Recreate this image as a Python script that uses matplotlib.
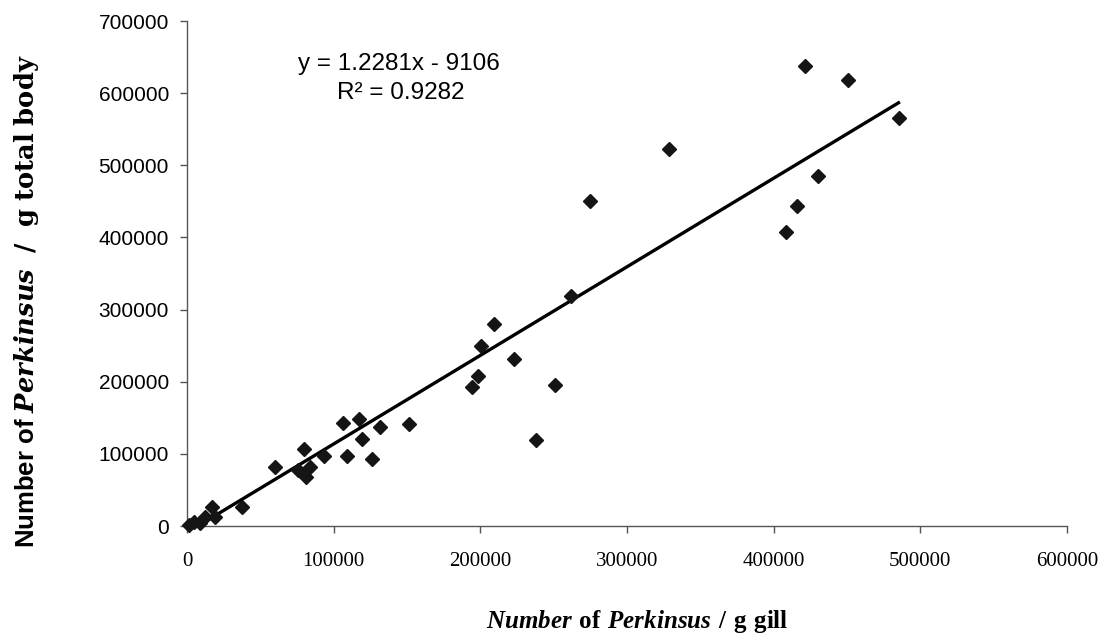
import numpy as np
import matplotlib
matplotlib.use("Agg")
import matplotlib.pyplot as plt

plt.rcParams['mathtext.fontset'] = 'custom'
plt.rcParams['mathtext.rm'] = 'DejaVu Serif'
plt.rcParams['mathtext.bf'] = 'DejaVu Serif:bold'
plt.rcParams['mathtext.it'] = 'DejaVu Serif:italic'
plt.rcParams['mathtext.bfit'] = 'DejaVu Serif:bold:italic'
# narrower serif for the x label
plt.rcParams['mathtext.sf'] = 'Liberation Serif:bold:italic'
plt.rcParams['mathtext.tt'] = 'Liberation Serif:bold'

# Perkinsus counts: gill (x) vs total body (y)
gill = [1100, 5000, 8600, 12500, 17000, 19300, 37500, 60200, 75700, 80000,
        83600, 81300, 93600, 106700, 109100, 117400, 119300, 126100, 131300, 151700,
        194300, 198100, 200400, 209000, 223100, 237900, 251100, 261800, 274900, 328800,
        408500, 416200, 430100, 421500, 451000, 485100]
body = [1400, 6000, 3700, 12900, 26800, 12100, 26000, 81400, 77700, 106800,
        81400, 67500, 97500, 142400, 97500, 148400, 120700, 92900, 137700, 141100,
        193200, 208500, 250000, 279700, 231200, 119300, 195600, 319400, 450800, 522900,
        407300, 442900, 484500, 637000, 617600, 565400]

slope = 1.2281
intercept = -9106
r_squared = 0.9282

xticks = [0, 100000, 200000, 300000, 400000, 500000, 600000]
yticks = [0, 100000, 200000, 300000, 400000, 500000, 600000, 700000]

fig = plt.figure(figsize=(11.13, 6.41), dpi=100)
ax = fig.add_axes([0.168, 0.1794, 0.7907, 0.7878])

ax.plot(gill, body, linestyle='none', marker='D', markersize=7,
        color='#151515', clip_on=False, zorder=3)

xfit = np.array([0, max(gill)])
ax.plot(xfit, slope * xfit + intercept, color='black', linewidth=2.4, zorder=2)

ax.set_xlim(0, 600000)
ax.set_ylim(0, 700000)
ax.set_xticks(xticks)
ax.set_yticks(yticks)
ax.set_xticklabels([str(v) for v in xticks], family='Liberation Serif', fontsize=15)
ax.set_yticklabels([str(v) for v in yticks], family='Liberation Sans', fontsize=15)
ax.tick_params(axis='both', direction='out', length=5, width=1, color='#555555')
ax.tick_params(axis='x', pad=14)
ax.tick_params(axis='y', pad=8)

for side in ['top', 'right']:
    ax.spines[side].set_visible(False)
for side in ['left', 'bottom']:
    ax.spines[side].set_color('#555555')
    ax.spines[side].set_linewidth(1)

ax.text(0.241, 0.915, f'y = {slope}x - {abs(intercept)}', transform=ax.transAxes,
        ha='center', va='center', family='Liberation Sans', fontsize=17.5)
ax.text(0.243, 0.857, f'R² = {r_squared}', transform=ax.transAxes,
        ha='center', va='center', family='Liberation Sans', fontsize=17.5)

fig.text(0.024, 0.53, r'Number of $\mathbfit{Perkinsus}\ \ \mathbf{/\ \ g\ total\ body}$',
         rotation=90, ha='center', va='center', family='Liberation Sans',
         fontweight='bold', fontsize=18.5)
fig.text(0.573, 0.03, r'$\mathsf{Number}\ \mathtt{of}\ \mathsf{Perkinsus}\ \mathtt{/\ g\ gill}$',
         ha='center', va='center', fontsize=18)

fig.savefig('out.png', dpi=100)
